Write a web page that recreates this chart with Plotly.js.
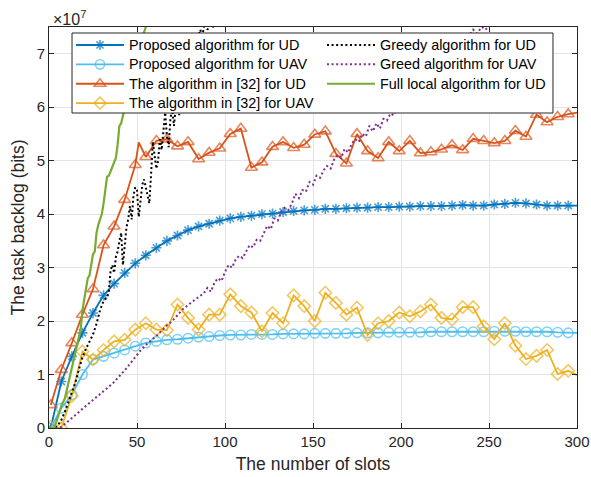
<!DOCTYPE html>
<html>
<head>
<meta charset="utf-8">
<script src="https://cdn.plot.ly/plotly-3.0.1.min.js"></script>
<style>
  html, body { margin: 0; padding: 0; background: #ffffff; }
  #chart { width: 591px; height: 477px; }
</style>
</head>
<body>
<div id="chart"></div>
<script>
// Task backlog versus time slot. Backlog values are in units of 1e7 bits.

// Slots of the marked series (a marker every 6 slots, line ends at slot 300)
const markedSlots = [1,7,13,19,25,31,37,43,49,55,61,67,73,79,85,91,97,103,109,115,121,127,133,139,145,151,157,163,169,175,181,187,193,199,205,211,217,223,229,235,241,247,253,259,265,271,277,283,289,295,300];

const proposedUD = [0,0.87,1.34,1.78,2.15,2.48,2.70,2.90,3.08,3.23,3.37,3.50,3.60,3.70,3.77,3.82,3.88,3.92,3.95,3.97,4.00,4.01,4.04,4.06,4.07,4.08,4.10,4.10,4.11,4.12,4.12,4.13,4.13,4.14,4.14,4.15,4.15,4.15,4.16,4.17,4.16,4.16,4.18,4.19,4.21,4.20,4.18,4.16,4.16,4.16,4.16];

const proposedUAV = [0,0.37,0.62,1.00,1.28,1.34,1.40,1.46,1.53,1.59,1.62,1.65,1.66,1.68,1.70,1.71,1.73,1.74,1.74,1.75,1.75,1.75,1.76,1.76,1.76,1.77,1.77,1.77,1.77,1.78,1.78,1.78,1.79,1.79,1.79,1.79,1.80,1.80,1.80,1.80,1.80,1.80,1.81,1.81,1.81,1.80,1.80,1.80,1.79,1.78,1.78];

// The [32] UD curve has one extra vertex between marked slots (slot 51)
const ref32UDSlots = [1,7,13,19,25,31,37,43,49,51,55,61,67,73,79,85,91,97,103,109,115,121,127,133,139,145,151,157,163,169,175,181,187,193,199,205,211,217,223,229,235,241,247,253,259,265,271,277,283,289,295,300];
const ref32UD = [0.43,1.09,1.59,2.12,2.60,3.42,3.77,4.27,4.92,5.34,5.07,5.37,5.40,5.27,5.35,5.03,5.15,5.23,5.50,5.60,4.87,4.97,5.26,5.35,5.24,5.30,5.49,5.55,5.13,4.95,5.50,5.18,5.05,5.35,5.18,5.37,5.14,5.16,5.21,5.29,5.20,5.41,5.37,5.33,5.37,5.56,5.45,5.86,5.72,5.82,5.87,5.90];

const ref32UAV = [0.02,0,0.60,1.43,1.28,1.46,1.62,1.65,1.84,1.96,1.84,1.83,2.31,2.06,1.84,2.12,2.12,2.50,2.28,2.16,1.81,2.15,1.96,2.48,2.28,2.00,2.53,2.34,2.12,2.25,1.74,1.96,2.00,2.16,2.09,2.18,2.31,2.06,2.03,2.26,2.26,1.90,1.66,1.96,1.54,1.29,1.35,1.46,1.01,1.07,0.99];

const greedyUDSlots = [1,3,5,7,9,11,13,15,17,19,21,23,25,27,29,31,33,34,35,36,37,38,39,40,41,42,43,44,45,46,47,48,49,50,51,52,53,54,55,56,57,58,59,60,61,62,63,64,65,66,67,68,69,70,71,72,73,74,75,76,77,78,79,80,81,82,83,84,85,86,87,88,89,90,92,94,96,98,100];
const greedyUD = [0,0,0.05,0.15,0.30,0.48,0.68,0.85,1.10,1.32,1.48,1.62,1.75,1.95,2.20,2.38,2.45,2.55,2.95,3.05,2.90,3.20,3.30,3.50,3.65,3.05,3.40,3.75,3.90,4.15,3.90,4.35,4.50,4.45,3.95,4.25,4.55,4.65,4.50,4.35,4.20,4.75,5.35,5.10,4.85,5.00,5.40,5.20,5.60,5.90,5.45,5.25,5.80,5.95,5.65,6.00,6.10,5.85,6.25,6.00,6.45,6.70,6.50,6.95,6.75,7.10,7.20,7.00,7.35,7.45,7.30,7.50,7.60,7.45,7.55,7.48,7.70,7.60,7.80];

const greedUAVSlots = [1,4,7,10,13,16,19,22,25,28,31,34,37,40,43,46,49,52,55,58,61,64,67,70,73,76,79,82,85,88,90,92,94,96,98,100,102,104,106,108,110,112,114,116,118,120,122,124,126,128,130,132,134,136,138,140,142,144,146,148,150,152,154,156,158,160,162,164,166,168,170,172,174,176,178,180,182,184,186,188,190,192,194,196,198,202,206,210,214,218,222,226,230,234,238,241,243,246,248,251,254];
const greedUAV = [0,0,0.02,0.10,0.18,0.27,0.36,0.44,0.52,0.60,0.68,0.77,0.86,0.96,1.08,1.20,1.33,1.45,1.55,1.63,1.72,1.82,1.92,2.00,2.12,2.22,2.30,2.38,2.45,2.52,2.62,2.55,2.72,2.80,2.75,2.92,3.05,3.00,3.15,3.22,3.18,3.30,3.42,3.38,3.52,3.50,3.65,3.78,3.72,3.92,3.88,4.05,4.12,4.08,4.20,4.38,4.30,4.45,4.42,4.60,4.55,4.72,4.68,4.82,4.90,4.85,5.02,5.10,5.05,5.22,5.15,5.32,5.40,5.35,5.50,5.45,5.65,5.55,5.70,5.60,5.78,5.75,5.88,5.85,5.98,6.10,6.25,6.40,6.50,6.65,6.80,6.90,7.05,7.15,7.30,7.45,7.38,7.50,7.45,7.55,7.70];

const fullLocalSlots = [1,3,5,7,9,11,13,15,17,18,19,21,22,23,24,25,26,27,28,30,31,32,33,34,35,37,38,39,40,41,42,43,44,46,47,48,49,51,52,53,55,56];
const fullLocal = [0,0,0.20,0.42,0.55,0.85,1.12,1.40,1.75,1.85,2.20,2.55,2.80,2.85,3.10,3.25,3.30,3.65,3.80,4.00,4.20,4.45,4.70,4.72,4.80,4.95,5.05,5.30,5.65,5.70,5.85,5.95,6.10,6.40,6.55,6.60,6.80,7.05,7.10,7.30,7.50,7.70];

const xTicks = [0, 50, 100, 150, 200, 250, 300];
const yTicks = [0, 1, 2, 3, 4, 5, 6, 7];
const yTickText = ['0', '1', '2', '3', '4', '5', '6', '7'];

const names = {
  pUD: 'Proposed algorithm for UD',
  pUAV: 'Proposed algorithm for UAV',
  rUD: 'The algorithm in [32] for UD',
  rUAV: 'The algorithm in [32] for UAV',
  gUD: 'Greedy algorithm for UD',
  gUAV: 'Greed algorithm for UAV',
  full: 'Full local algorithm for UD'
};

// markers only on every 6th slot starting at slot 1
function markerSizes(slots, size) {
  return slots.map(s => ((s - 1) % 6 === 0 ? size : 0));
}
// legend text drawn larger than the row pitch would normally allow
function legendLabel(t) {
  return '<span style="font-size:14.4px">' + t + '</span>';
}

const LW = 1.8;
const DOTS = '2px,2.6px';
const traces = [
  {
    x: markedSlots, y: proposedUD, name: legendLabel(names.pUD), legend: 'legend',
    mode: 'lines+markers',
    line: { color: '#0072BD', width: LW },
    marker: { symbol: 'asterisk-open', size: markerSizes(markedSlots, 8.5), color: '#0072BD', line: { color: '#0072BD', width: 1.6 } }
  },
  {
    x: markedSlots, y: proposedUAV, name: legendLabel(names.pUAV), legend: 'legend',
    mode: 'lines+markers',
    line: { color: '#4DBEEE', width: LW },
    marker: { symbol: 'circle-open', size: markerSizes(markedSlots, 9.5), color: '#4DBEEE', line: { color: '#4DBEEE', width: 1.6 } }
  },
  {
    x: ref32UDSlots, y: ref32UD, name: legendLabel(names.rUD), legend: 'legend',
    mode: 'lines+markers',
    line: { color: '#D95319', width: LW },
    marker: { symbol: 'triangle-up-open', size: markerSizes(ref32UDSlots, 10.5), color: '#D95319', line: { color: '#D95319', width: 1.6 } }
  },
  {
    x: markedSlots, y: ref32UAV, name: legendLabel(names.rUAV), legend: 'legend',
    mode: 'lines+markers',
    line: { color: '#EDB120', width: LW },
    marker: { symbol: 'diamond-open', size: markerSizes(markedSlots, 9.5), color: '#EDB120', line: { color: '#EDB120', width: 1.6 } }
  },
  {
    x: greedyUDSlots, y: greedyUD, name: legendLabel(names.gUD), legend: 'legend2',
    mode: 'lines',
    line: { color: '#000000', width: 2, dash: DOTS }
  },
  {
    x: greedUAVSlots, y: greedUAV, name: legendLabel(names.gUAV), legend: 'legend2',
    mode: 'lines',
    line: { color: '#7E2F8E', width: 2, dash: DOTS }
  },
  {
    x: fullLocalSlots, y: fullLocal, name: legendLabel(names.full), legend: 'legend2',
    mode: 'lines',
    line: { color: '#77AC30', width: 2.2 }
  }
];

const axisColor = '#262626';
const font = 'Liberation Sans, Arial, Helvetica, sans-serif';

const legendCommon = {
  bgcolor: 'rgba(0,0,0,0)',
  borderwidth: 0,
  font: { family: font, size: 12.6, color: '#000000' },
  itemwidth: 48,
  yanchor: 'top',
  xanchor: 'left',
  traceorder: 'normal',
  itemclick: false
};

const layout = {
  width: 591,
  height: 477,
  margin: { l: 49, r: 14, t: 27, b: 49, pad: 0 },
  paper_bgcolor: '#ffffff',
  plot_bgcolor: '#ffffff',
  font: { family: font, color: axisColor },
  showlegend: true,
  xaxis: {
    range: [0, 300],
    tickvals: xTicks,
    ticktext: xTicks.map(String),
    ticks: 'inside', ticklen: 5, tickwidth: 1, tickcolor: axisColor,
    showline: true, linecolor: axisColor, linewidth: 1, mirror: 'ticks',
    showgrid: true, gridcolor: '#e4e4e4', gridwidth: 1,
    zeroline: false,
    tickfont: { family: font, size: 15, color: axisColor },
    title: { text: 'The number of slots', font: { family: font, size: 17.5, color: axisColor }, standoff: 8 }
  },
  yaxis: {
    range: [0, 7.5],
    tickvals: yTicks,
    ticktext: yTickText,
    ticks: 'inside', ticklen: 5, tickwidth: 1, tickcolor: axisColor,
    showline: true, linecolor: axisColor, linewidth: 1, mirror: 'ticks',
    showgrid: true, gridcolor: '#e4e4e4', gridwidth: 1,
    zeroline: false,
    tickfont: { family: font, size: 15, color: axisColor },
    title: { text: 'The task backlog (bits)', font: { family: font, size: 17.5, color: axisColor }, standoff: 7 }
  },
  legend: Object.assign({}, legendCommon, { x: 0.0417, y: 0.9918 }),
  legend2: Object.assign({}, legendCommon, { x: 0.517, y: 0.9918 }),
  shapes: [
    {
      type: 'rect', xref: 'paper', yref: 'paper', layer: 'above',
      x0: 0.0436, x1: 0.9545, y0: 0.7855, y1: 0.9850,
      fillcolor: '#ffffff', line: { color: axisColor, width: 1 }
    }
  ],
  annotations: [
    {
      xref: 'paper', yref: 'paper', x: 0, y: 1, xanchor: 'left', yanchor: 'bottom',
      xshift: 2, yshift: -3, showarrow: false,
      text: '\u00d710<sup>7</sup>',
      font: { family: font, size: 16, color: axisColor }
    }
  ]
};

Plotly.newPlot('chart', traces, layout, { displayModeBar: false, staticPlot: true });
</script>
</body>
</html>
